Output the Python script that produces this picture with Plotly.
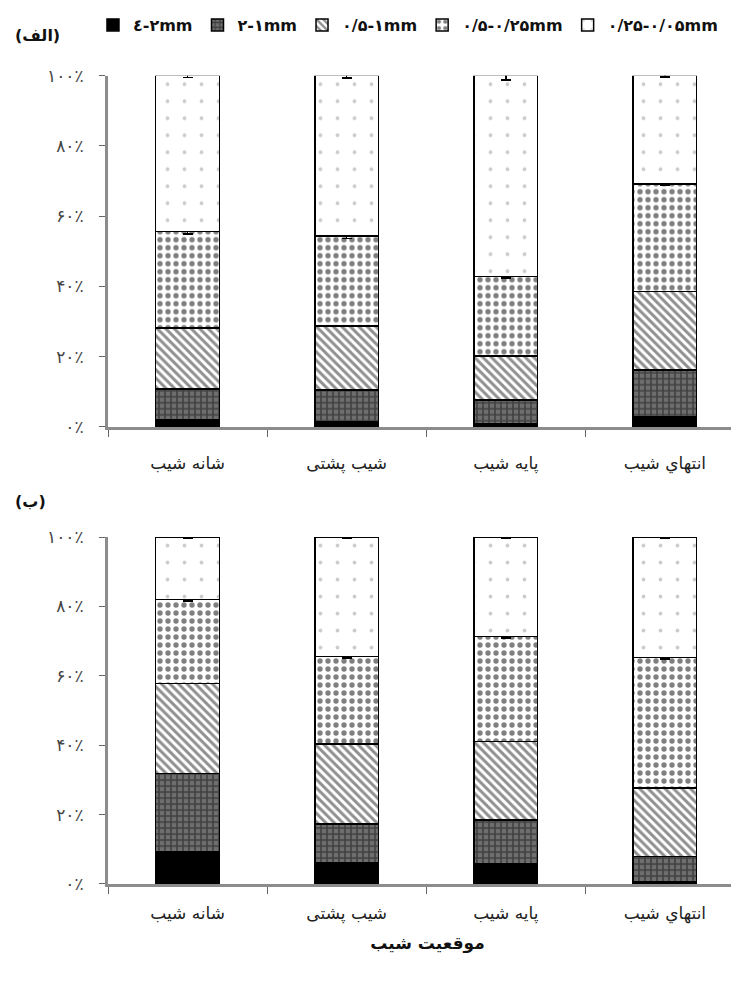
import plotly.graph_objects as go

# categories (slope positions)
categories = ["شانه شیب", "شیب پشتی", "پایه شیب", "انتهاي شیب"]

# legend labels (particle size classes)
size_classes = ["\u200e٤\u200e-۲mm", "۲-۱mm", "۰/۵-۱mm", "۰/۵-۰/۲۵mm", "۰/۲۵-۰/۰۵mm"]

# panel (الف) segment percentages, per size class
top_4_2 = [2.0, 1.5, 1.0, 3.0]
top_2_1 = [8.8, 9.0, 6.7, 13.2]
top_1_05 = [17.4, 18.3, 12.5, 22.3]
top_05_025 = [27.4, 25.6, 22.6, 30.7]
top_025_005 = [44.4, 45.6, 57.2, 30.8]

# panel (ب) segment percentages, per size class
bot_4_2 = [9.3, 6.0, 5.8, 0.7]
bot_2_1 = [22.6, 11.3, 12.6, 7.2]
bot_1_05 = [25.9, 23.0, 22.6, 19.7]
bot_05_025 = [24.2, 25.2, 30.3, 37.7]
bot_025_005 = [18.0, 34.5, 28.7, 34.7]

# small error bars read at segment tops
top_err_05_025 = [0.6, 0.8, 0.4, 0.3]
top_err_025_005 = [0.5, 0.6, 1.2, 0.4]
bot_err_05_025 = [0.5, 0.4, 0.4, 0.4]
bot_err_025_005 = [0.3, 0.3, 0.3, 0.3]

tick_vals = [0, 20, 40, 60, 80, 100]
tick_text = ["۰٪", "۲۰٪", "۴۰٪", "۶۰٪", "۸۰٪", "۱۰۰٪"]

FONT = "DejaVu Sans"

patterns = [
    dict(shape="", fgcolor="black", bgcolor="black"),
    dict(shape="+", fgcolor="#111111", bgcolor="#6e6e6e", size=6, solidity=0.45),
    dict(shape="\\", fgcolor="#222222", bgcolor="white", size=6, solidity=0.5),
    dict(shape=".", fgcolor="#000000", bgcolor="white", size=8, solidity=0.35),
    dict(shape=".", fgcolor="#9a9a9a", bgcolor="white", size=17, solidity=0.04),
]
fillcolors = ["black", "#6e6e6e", "white", "white", "white"]

top_series = [top_4_2, top_2_1, top_1_05, top_05_025, top_025_005]
bot_series = [bot_4_2, bot_2_1, bot_1_05, bot_05_025, bot_025_005]
top_errs = [None, None, None, top_err_05_025, top_err_025_005]
bot_errs = [None, None, None, bot_err_05_025, bot_err_025_005]

fig = go.Figure()

for panel, (series, errs, xa, ya) in enumerate([
    (top_series, top_errs, "x", "y"),
    (bot_series, bot_errs, "x2", "y2"),
]):
    for i, vals in enumerate(series):
        err = errs[i]
        fig.add_trace(go.Bar(
            x=categories, y=vals, name=size_classes[i],
            xaxis=xa, yaxis=ya, width=0.4,
            marker=dict(color=fillcolors[i], pattern=patterns[i],
                        line=dict(color="black", width=1.5)),
            error_y=(dict(type="data", array=err, color="black", thickness=1.5, width=5)
                     if err is not None else dict(visible=False)),
            showlegend=(panel == 0), legendgroup=size_classes[i],
        ))

xr = [-0.5, 3.516]
xcommon = dict(
    type="category", range=xr, showline=True, linecolor="#8c8c8c", linewidth=2.5,
    ticks="outside", tickson="boundaries", ticklen=7, tickcolor="#666",
    tickfont=dict(family=FONT, size=17, color="#222"),
    showgrid=False, zeroline=False, fixedrange=True, automargin=False,
)
ycommon = dict(
    range=[0, 100], tickvals=tick_vals, ticktext=tick_text, showline=True,
    linecolor="#8c8c8c", linewidth=3, ticks="outside", ticklen=6, tickcolor="#666",
    tickfont=dict(family=FONT, size=17, color="#444"), ticklabelstandoff=12,
    showgrid=False, zeroline=False, fixedrange=True, automargin=False,
)

x0 = 100 / 739
fig.update_layout(
    width=739, height=983,
    margin=dict(l=0, r=0, t=0, b=0, autoexpand=False),
    paper_bgcolor="white", plot_bgcolor="white",
    barmode="stack", bargap=0.6,
    font=dict(family=FONT, color="#222"),
    xaxis=dict(domain=[x0, 1], anchor="y", ticklabelstandoff=19, **xcommon),
    yaxis=dict(domain=[0.5738, 0.9311], anchor="x", **ycommon),
    xaxis2=dict(domain=[x0, 1], anchor="y2", ticklabelstandoff=12,
                title=dict(text="موقعیت شیب", font=dict(family=FONT, size=17, weight="bold", color="#111"),
                           standoff=14),
                **xcommon),
    yaxis2=dict(domain=[0.1089, 0.4618], anchor="x2", **ycommon),
    legend=dict(orientation="h", x=0.115, xanchor="left", y=1.0, yanchor="top",
                font=dict(family=FONT, size=16, weight="bold", color="#111"),
                itemwidth=30, tracegroupgap=0, bgcolor="rgba(0,0,0,0)"),
    annotations=[
        dict(text="(الف)", x=0.007, y=0.9725, xref="paper", yref="paper", showarrow=False,
             xanchor="left", yanchor="middle", font=dict(family=FONT, size=16, weight="bold", color="#111")),
        dict(text="(ب)", x=0.007, y=0.4975, xref="paper", yref="paper", showarrow=False,
             xanchor="left", yanchor="middle", font=dict(family=FONT, size=16, weight="bold", color="#111")),
    ],
)

fig.write_html("out.html")
